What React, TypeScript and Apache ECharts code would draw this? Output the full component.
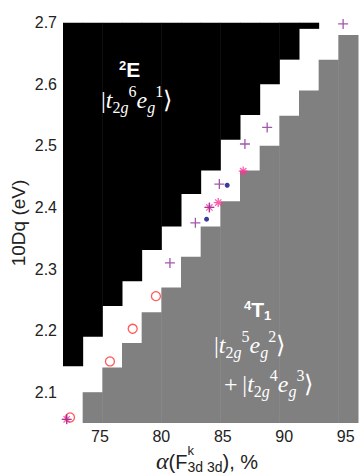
import React, { useEffect, useRef } from 'react';
import * as echarts from 'echarts';

// ---- data ----
const xEdges = [72, 73.6, 75.2, 76.8, 78.4, 80, 81.6, 83.2, 84.8, 86.4, 88, 89.6, 91.2, 92.8, 94.4, 96];
const blackBottom = [2.142, 2.19, 2.24, 2.28, 2.331, 2.369, 2.422, 2.46, 2.51, 2.55, 2.6, 2.64, 2.69, null, null];
const grayTop = [null, 2.1, 2.14, 2.18, 2.23, 2.27, 2.32, 2.369, 2.41, 2.46, 2.5, 2.549, 2.59, 2.64, 2.68];
const xRange = [72, 96];
const yRange = [2.05, 2.7];
const xTicks = [75, 80, 85, 90, 95];
const yTicks = [2.1, 2.2, 2.3, 2.4, 2.5, 2.6, 2.7];

const plusPts = [[72.3, 2.056], [80.7, 2.31], [82.77, 2.375], [83.91, 2.4], [84.72, 2.438], [86.8, 2.503], [88.61, 2.53], [94.79, 2.698]];
const starPts = [[72.3, 2.056], [83.91, 2.4], [84.63, 2.408], [86.66, 2.459]];
const dotPts = [[83.68, 2.381], [85.36, 2.436]];
const circlePts = [[72.57, 2.059], [75.82, 2.15], [77.67, 2.203], [79.56, 2.256]];

const SANS = '"Liberation Sans", Arial, Helvetica, sans-serif';
const SERIF = '"Liberation Serif", "Times New Roman", serif';

type Seg = { t: string; size: number; fam?: string; it?: boolean; b?: boolean; dy?: number; noAdv?: boolean };
const fontOf = (s: Seg) => `${s.it ? 'italic ' : ''}${s.b ? 'bold ' : ''}${s.size}px ${s.fam || SERIF}`;
let mctx: CanvasRenderingContext2D | null = null;
function measure(s: Seg) {
  if (!mctx) mctx = document.createElement('canvas').getContext('2d');
  mctx!.font = fontOf(s);
  return mctx!.measureText(s.t).width;
}
function mathText(segs: Seg[], left: number, baseline: number, fill: string) {
  let x = left;
  const children: any[] = [];
  for (const s of segs) {
    const w = measure(s);
    children.push({
      type: 'text', x, y: baseline + (s.dy || 0) - 0.34 * s.size, silent: true, z: 100, zlevel: 0,
      style: { text: s.t, font: fontOf(s), fill, align: 'left', verticalAlign: 'middle', textAlign: 'left', textVerticalAlign: 'middle' },
    });
    if (!s.noAdv) x += w;
  }
  return { type: 'group', z: 100, children };
}
function ket(a: string, b: string, c: string, d: string): Seg[] {
  return [
    { t: a, size: 24 }, { t: 't', size: 24, it: true },
    { t: '2', size: 16, dy: 5 }, { t: 'g', size: 16, it: true, dy: 5 },
    { t: b, size: 16, dy: -11 }, { t: 'e', size: 24, it: true },
    { t: 'g', size: 16, it: true, dy: 5 }, { t: c, size: 16, dy: -11 }, { t: d, size: 24 },
  ];
}

const PLUS = 'path://M0,5L10,5M5,0L5,10';
const STAR = 'path://M0,5L10,5M5,0L5,10M1.5,1.5L8.5,8.5M1.5,8.5L8.5,1.5';

export default function App() {
  const ref = useRef<HTMLDivElement>(null);
  useEffect(() => {
    const chart = echarts.init(ref.current!, undefined, { renderer: 'svg' });
    const blackData: number[][] = [];
    const grayData: number[][] = [];
    for (let i = 0; i < xEdges.length - 1; i++) {
      if (blackBottom[i] != null) blackData.push([xEdges[i], xEdges[i + 1], blackBottom[i] as number, yRange[1]]);
      if (grayTop[i] != null) grayData.push([xEdges[i], xEdges[i + 1], yRange[0], grayTop[i] as number]);
    }
    const cellSeries = (data: number[][], color: string) => ({
      type: 'custom', data, silent: true, clip: false, z: 1,
      encode: { x: [0, 1], y: [2, 3] },
      renderItem: (_p: any, api: any) => {
        const p0 = api.coord([api.value(0), api.value(3)]);
        const p1 = api.coord([api.value(1), api.value(2)]);
        return { type: 'rect', shape: { x: p0[0], y: p0[1], width: p1[0] - p0[0] + 0.5, height: p1[1] - p0[1] }, style: { fill: color } };
      },
    });
    const labelStyle = { fontSize: 16, color: '#222', fontFamily: SANS };
    chart.setOption({
      animation: false,
      grid: { left: 63, top: 22.7, width: 295, height: 400.3 },
      xAxis: {
        type: 'value', min: xRange[0], max: xRange[1],
        axisLine: { show: false }, axisTick: { show: false }, splitLine: { show: false },
        axisLabel: { ...labelStyle, margin: 5, customValues: xTicks, formatter: (v: number) => String(v) },
      },
      yAxis: {
        type: 'value', min: yRange[0], max: yRange[1],
        axisLine: { show: false }, axisTick: { show: false }, splitLine: { show: false },
        axisLabel: { ...labelStyle, margin: 6, customValues: yTicks, formatter: (v: number) => v.toFixed(1) },
      },
      series: [
        cellSeries(blackData, '#000000'),
        cellSeries(grayData, '#808080'),
        {
          type: 'scatter', data: circlePts, symbol: 'circle', symbolSize: 9, clip: false, z: 3,
          itemStyle: { color: 'transparent', borderColor: '#FF3030', borderWidth: 1.3 },
        },
        {
          type: 'scatter', data: starPts, symbol: STAR, symbolSize: 9, clip: false, z: 3,
          itemStyle: { color: 'transparent', borderColor: '#FF3399', borderWidth: 1.3 },
        },
        {
          type: 'scatter', data: plusPts, symbol: PLUS, symbolSize: 10, clip: false, z: 3,
          itemStyle: { color: 'transparent', borderColor: '#8A2E96', borderWidth: 1.3 },
        },
        {
          type: 'scatter', data: dotPts, symbol: 'circle', symbolSize: 5, clip: false, z: 3,
          itemStyle: { color: '#0A0A80' },
        },
      ],
      graphic: [
        {
          type: 'text', x: 18, y: 223, rotation: Math.PI / 2, silent: true, z: 100,
          style: { text: '10Dq (eV)', font: `19px ${SANS}`, fill: '#222', align: 'center', verticalAlign: 'middle', textAlign: 'center', textVerticalAlign: 'middle' },
        },
        mathText([
          { t: 'α', size: 24, it: true },
          { t: '(F', size: 20, fam: SANS },
          { t: 'k', size: 13, fam: SANS, dy: -14, noAdv: true },
          { t: '3d 3d', size: 14, fam: SANS, dy: 2.5 },
          { t: '), %', size: 20, fam: SANS },
        ], 156, 469, '#222'),
        mathText([
          { t: '2', size: 13, fam: SANS, b: true, dy: -7 },
          { t: 'E', size: 21, fam: SANS, b: true },
        ], 119, 77, '#ffffff'),
        mathText(ket('|', '6', '1', '\u27E9'), 101, 108, '#ffffff'),
        mathText([
          { t: '4', size: 13, fam: SANS, b: true, dy: -7 },
          { t: 'T', size: 21, fam: SANS, b: true },
          { t: '1', size: 13, fam: SANS, b: true, dy: 3 },
        ], 244, 317, '#ffffff'),
        mathText(ket('|', '5', '2', '\u27E9'), 214, 353, '#ffffff'),
        mathText([{ t: '+', size: 24 }, { t: '\u2009', size: 24 }, ...ket('|', '4', '3', '\u27E9')], 224, 392, '#ffffff'),
      ],
    });
    return () => chart.dispose();
  }, []);
  return <div ref={ref} style={{ position: 'absolute', left: 0, top: 0, width: 359, height: 474 }} />;
}
